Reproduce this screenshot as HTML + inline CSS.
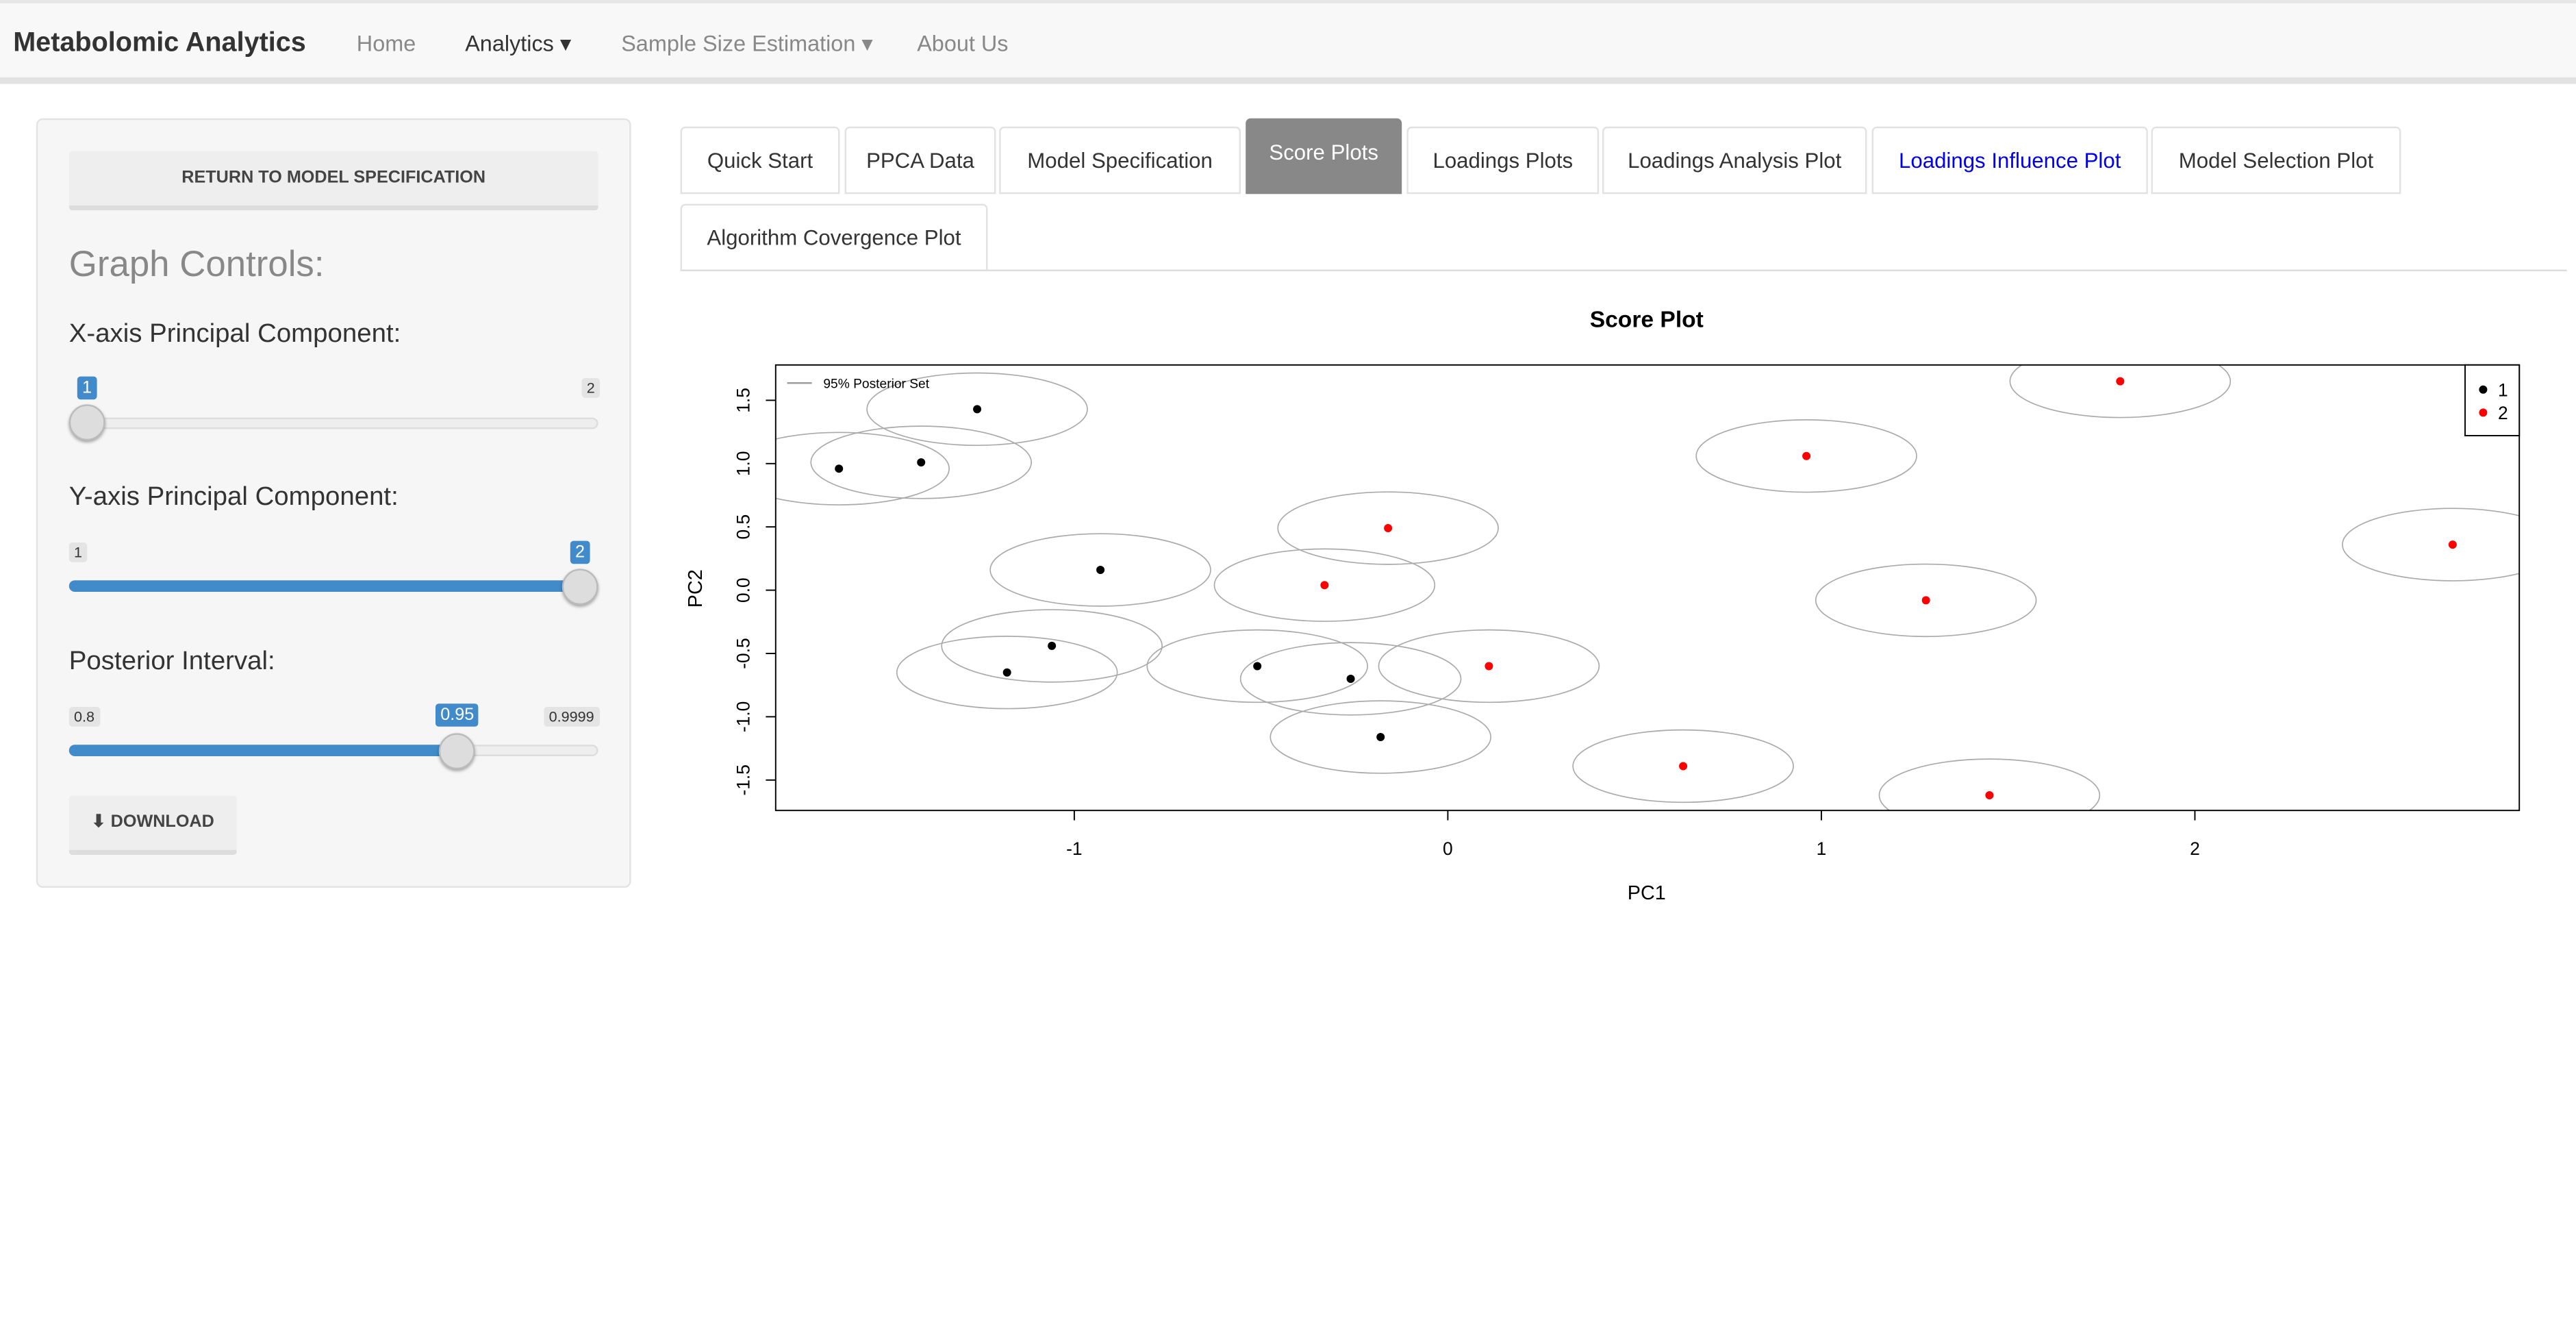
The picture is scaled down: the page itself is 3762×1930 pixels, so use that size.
<!DOCTYPE html>
<html><head><meta charset="utf-8"><style>
html,body{margin:0;padding:0;background:#fff;overflow:hidden}
body{width:3762px;height:1930px}
#w{position:absolute;left:0;top:0;width:1567.5px;height:804.2px;transform:scale(2.4);transform-origin:0 0;font-family:"Liberation Sans",sans-serif;color:#333}
.nav{position:absolute;left:0;top:0;width:1567.5px;height:51px;background:#f8f8f8;border-top:2px solid #e7e7e7;border-bottom:4px solid #e2e2e2;box-sizing:border-box}
.nav span{position:absolute;top:17px;font-size:13.5px;color:#888}
.panel{position:absolute;left:22px;top:72px;width:362px;height:468px;background:#f6f6f6;border:1px solid #e3e3e3;border-radius:4px;box-sizing:border-box}
.btn{position:absolute;background:#eee;border-bottom:3px solid #ddd;border-radius:2px;font-weight:bold;color:#444;text-align:center;box-sizing:border-box}
.lbl{position:absolute;left:42px;font-size:16px;color:#333}
.track{position:absolute;left:42px;width:322px;height:7px;border-radius:4px;background:#eee;border:1px solid #ddd;box-sizing:border-box}
.fill{position:absolute;left:42px;height:7px;border-radius:4px;background:#428bca}
.knob{position:absolute;width:22px;height:22px;border-radius:50%;background:#ddd;border:1px solid #bbb;box-shadow:0 1px 2px rgba(0,0,0,.35);box-sizing:border-box}
.tag{position:absolute;font-size:9px;padding:1px 3px;background:#e4e4e4;color:#333;border-radius:2px}
.tag.b{background:#428bca;color:#fff;font-size:10.5px}
.tab{position:absolute;height:41px;border:1px solid #e2e2e2;border-radius:3px 3px 0 0;font-size:13px;line-height:40px;text-align:center;box-sizing:border-box;color:#333;background:#fff}
</style></head><body>
<div id="w">
<div class="nav">
<span style="left:8px;top:15px;font-size:16.5px;font-weight:bold;color:#333">Metabolomic Analytics</span>
<span style="left:217px">Home</span>
<span style="left:283px;color:#333">Analytics ▾</span>
<span style="left:378px">Sample Size Estimation ▾</span>
<span style="left:558px">About Us</span>
</div>
<div class="panel"></div>
<div class="btn" style="left:42px;top:92px;width:322px;height:36px;line-height:33px;font-size:10.5px">RETURN TO MODEL SPECIFICATION</div>
<div style="position:absolute;left:42px;top:148px;font-size:22px;color:#888">Graph Controls:</div>
<div class="lbl" style="top:195px">X-axis Principal Component:</div>
<div class="tag b" style="left:47px;top:229px">1</div>
<div class="tag" style="left:354px;top:230px">2</div>
<div class="track" style="top:254px"></div>
<div class="knob" style="left:42px;top:246px"></div>
<div class="lbl" style="top:294px">Y-axis Principal Component:</div>
<div class="tag" style="left:42px;top:330px">1</div>
<div class="tag b" style="left:347px;top:329px">2</div>
<div class="fill" style="top:353px;width:322px"></div>
<div class="knob" style="left:342px;top:346px"></div>
<div class="lbl" style="top:394px">Posterior Interval:</div>
<div class="tag" style="left:42px;top:430px">0.8</div>
<div class="tag b" style="left:265px;top:428px">0.95</div>
<div class="tag" style="left:331px;top:430px">0.9999</div>
<div class="track" style="top:453px"></div>
<div class="fill" style="top:453px;width:236px"></div>
<div class="knob" style="left:267px;top:446px"></div>
<div class="btn" style="left:42px;top:484px;width:102px;height:36px;line-height:33px;font-size:10.5px">⬇ DOWNLOAD</div>

<div class="tab" style="left:414px;top:77px;width:97px">Quick Start</div>
<div class="tab" style="left:514px;top:77px;width:92px">PPCA Data</div>
<div class="tab" style="left:608px;top:77px;width:147px">Model Specification</div>
<div class="tab" style="left:758px;top:72px;width:95px;height:46px;line-height:40px;background:#888;color:#fff;border-color:#888">Score Plots</div>
<div class="tab" style="left:856px;top:77px;width:117px">Loadings Plots</div>
<div class="tab" style="left:975px;top:77px;width:161px">Loadings Analysis Plot</div>
<div class="tab" style="left:1139px;top:77px;width:168px;color:#00e">Loadings Influence Plot</div>
<div class="tab" style="left:1309px;top:77px;width:152px">Model Selection Plot</div>
<div class="tab" style="left:414px;top:124px;width:187px">Algorithm Covergence Plot</div>
<div style="position:absolute;left:414px;top:164px;width:1148px;height:1px;background:#ddd"></div>

<svg id="plot" style="position:absolute;left:0;top:0" width="1568" height="804" font-family="Liberation Sans, sans-serif"></svg>
</div>
<script>
const xTicks=[-1,0,1,2];
const yTicks=[-1.5,-1.0,-0.5,0.0,0.5,1.0,1.5];
const yTickLabels=["-1.5","-1.0","-0.5","0.0","0.5","1.0","1.5"];
const groupA_x=[-1.63,-1.41,-1.26,-0.93,-1.06,-1.18,-0.51,-0.26,-0.18];
const groupA_y=[0.96,1.01,1.43,0.16,-0.44,-0.65,-0.60,-0.70,-1.16];
const groupB_x=[-0.16,-0.33,0.11,0.96,1.28,1.80,2.69,0.63,1.45];
const groupB_y=[0.49,0.04,-0.60,1.06,-0.08,1.65,0.36,-1.39,-1.62];
const ellipseRx=0.295, ellipseRy=0.286;
const L=472,R=1533,T=222,B=493;
const X=v=>881+v*227.3, Y=v=>359-v*77;
const NS="http://www.w3.org/2000/svg";
const svg=document.getElementById('plot');
function mk(t,a,p){const e=document.createElementNS(NS,t);for(const k in a)e.setAttribute(k,a[k]);(p||svg).appendChild(e);return e;}
const defs=mk('defs',{});const cp=mk('clipPath',{id:'c'},defs);mk('rect',{x:L,y:T,width:R-L,height:B-T},cp);
let t=mk('text',{x:1002,y:199,'text-anchor':'middle','font-size':14,'font-weight':'bold',fill:'#000'});t.textContent='Score Plot';


const g=mk('g',{'clip-path':'url(#c)'});
function series(xs,ys,col,name){xs.forEach((x,i)=>{
 const e=mk('ellipse',{cx:X(x),cy:Y(ys[i]),rx:ellipseRx*227.3,ry:ellipseRy*77,fill:'none',stroke:'#aaa','stroke-width':0.7},g);
 
 
 const c=mk('circle',{cx:X(x),cy:Y(ys[i]),r:2.5,fill:col},g);
 
 
});}
series(groupA_x,groupA_y,'#000','point-group-1');
series(groupB_x,groupB_y,'#f00','point-group-2');
const box=mk('rect',{x:L,y:T,width:R-L,height:B-T,fill:'none',stroke:'#000','stroke-width':0.8});


xTicks.forEach(v=>{mk('line',{x1:X(v),x2:X(v),y1:B,y2:B+6,stroke:'#000','stroke-width':0.8});const tx=mk('text',{x:X(v),y:B+27,'text-anchor':'middle','font-size':11,fill:'#000'});tx.textContent=v;
 
 });
yTicks.forEach((v,i)=>{mk('line',{x1:L-6,x2:L,y1:Y(v),y2:Y(v),stroke:'#000','stroke-width':0.8});const tx=mk('text',{x:456,y:Y(v),'text-anchor':'middle','font-size':11,fill:'#000',transform:`rotate(-90 456 ${Y(v)})`});tx.textContent=yTickLabels[i];
 
 });
t=mk('text',{x:1002,y:547,'text-anchor':'middle','font-size':12,fill:'#000'});t.textContent='PC1';


t=mk('text',{x:427,y:358,'text-anchor':'middle','font-size':12,fill:'#000',transform:'rotate(-90 427 358)'});t.textContent='PC2';


mk('line',{x1:479,x2:494,y1:233,y2:233,stroke:'#999'});
t=mk('text',{x:501,y:236,'font-size':8,fill:'#000'});t.textContent='95% Posterior Set';


mk('rect',{x:1500,y:T,width:R-1500,height:43,fill:'#fff',stroke:'#000','stroke-width':0.8});
[['#000','1',237],['#f00','2',251]].forEach(([c,l,y])=>{mk('circle',{cx:1511,cy:y,r:2.5,fill:c});const tx=mk('text',{x:1520,y:y+4,'font-size':11,fill:'#000'});tx.textContent=l;
 
 });
</script>
</body></html>
